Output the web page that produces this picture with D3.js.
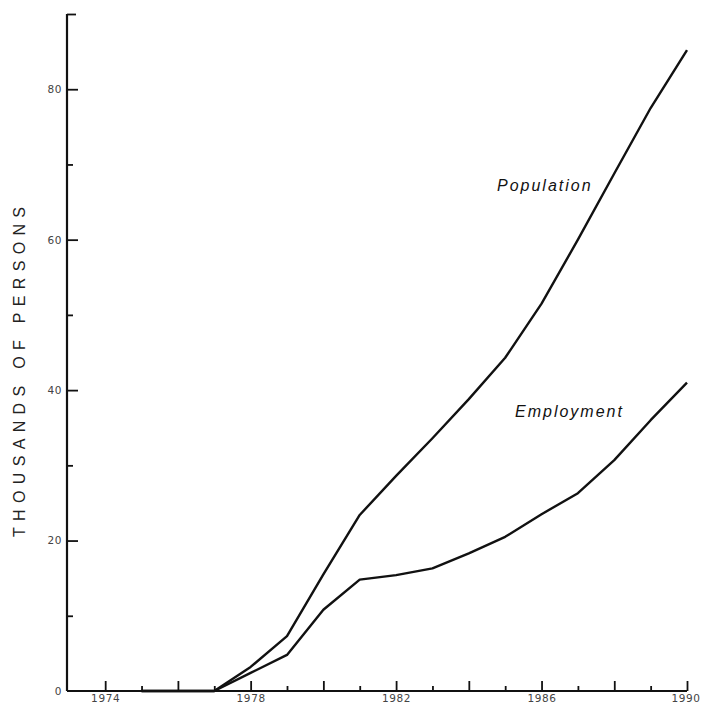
<!DOCTYPE html>
<html>
<head>
<meta charset="utf-8">
<script src="https://cdn.jsdelivr.net/npm/d3@7"></script>
<style>
  html, body { margin: 0; padding: 0; background: #ffffff; }
  svg { display: block; }
</style>
</head>
<body>
<script>
// ---- data ----
const years = [1975, 1976, 1977, 1978, 1979, 1980, 1981, 1982, 1983, 1984, 1985, 1986, 1987, 1988, 1989, 1990];
const population = [0, 0, 0, 3.2, 7.3, 15.5, 23.4, 28.6, 33.6, 38.8, 44.3, 51.5, 60.0, 68.8, 77.5, 85.2];
const employment = [0, 0, 0, 2.4, 4.8, 10.8, 14.8, 15.4, 16.3, 18.3, 20.5, 23.5, 26.3, 30.7, 36.0, 41.0];
const yMajorTicks = [20, 40, 60, 80];
const yMinorTicks = [10, 30, 50, 70];
const yLabelTicks = [0, 20, 40, 60, 80];
const xMajorYears = [1974, 1976, 1978, 1980, 1982, 1984, 1986, 1988, 1990];
const xMinorYears = [1975, 1977, 1979, 1981, 1983, 1985, 1987, 1989];
const xLabelYears = [1974, 1978, 1982, 1986, 1990];
const yTitle = "THOUSANDS OF PERSONS";

const W = 701, H = 709;
const svg = d3.select("body").append("svg").attr("width", W).attr("height", H);

const x = d3.scaleLinear().domain([1972.95, 1990]).range([67, 687]);
const y = d3.scaleLinear().domain([0, 90]).range([691, 14]);

const axisColor = "#111";
const x0 = x(1972.95);

// Y axis minor ticks
const gyMinor = svg.append("g").attr("transform", `translate(${x0},0)`)
  .call(d3.axisLeft(y).tickValues(yMinorTicks).tickSize(-6).tickFormat(""));
// Y axis major ticks
const gyMajor = svg.append("g").attr("transform", `translate(${x0},0)`)
  .call(d3.axisLeft(y).tickValues(yMajorTicks).tickSize(-11).tickFormat(""));
// Y labels
const gyLab = svg.append("g").attr("transform", `translate(${x0},0)`)
  .call(d3.axisLeft(y).tickValues(yLabelTicks).tickSize(0).tickPadding(5).tickFormat(d3.format("d")));
// top cap
const gyTop = svg.append("g").attr("transform", `translate(${x0},0)`)
  .call(d3.axisLeft(y).tickValues([90]).tickSize(-9).tickFormat(""));

// X axis ticks
const gxMinor = svg.append("g").attr("transform", `translate(0,${y(0)})`)
  .call(d3.axisBottom(x).tickValues(xMinorYears).tickSize(-5).tickFormat(""));
const gxMajor = svg.append("g").attr("transform", `translate(0,${y(0)})`)
  .call(d3.axisBottom(x).tickValues(xMajorYears).tickSize(-10).tickFormat(""));
const gxLab = svg.append("g").attr("transform", `translate(0,${y(0)})`)
  .call(d3.axisBottom(x).tickValues(xLabelYears).tickSize(0).tickPadding(4).tickFormat(d3.format("d")));

[gyMinor, gyMajor, gyLab, gyTop, gxMinor, gxMajor, gxLab].forEach(g => {
  g.select(".domain").remove();
  g.selectAll("line").attr("stroke", axisColor).attr("stroke-width", 1.8);
  g.selectAll("text").attr("fill", "#444")
    .style("font-family", "'DejaVu Sans', sans-serif")
    .style("font-size", "10.5px")
    .style("letter-spacing", "0.6px");
});
// keep the last year label inside the picture
gxLab.selectAll("text").filter(d => d === 1990).attr("text-anchor", "end").attr("dx", 13);

// axis lines
svg.append("line")
  .attr("x1", x0).attr("x2", x0)
  .attr("y1", y(90)).attr("y2", y(0))
  .attr("stroke", axisColor).attr("stroke-width", 2.2);
svg.append("line")
  .attr("x1", x0).attr("x2", x(1990))
  .attr("y1", y(0)).attr("y2", y(0))
  .attr("stroke", axisColor).attr("stroke-width", 1.8);

// series lines
const line = d3.line().x((d, i) => x(years[i])).y(d => y(d)).curve(d3.curveLinear);
svg.append("path").datum(population).attr("d", line)
  .attr("fill", "none").attr("stroke", "#111").attr("stroke-width", 2.4)
  .attr("stroke-linejoin", "round");
svg.append("path").datum(employment).attr("d", line)
  .attr("fill", "none").attr("stroke", "#111").attr("stroke-width", 2.4)
  .attr("stroke-linejoin", "round");

// series labels
svg.append("text").attr("x", 497).attr("y", 191)
  .text("Population")
  .style("font-family", "'Liberation Sans', Arial, sans-serif")
  .style("font-style", "italic").style("font-size", "16px")
  .style("letter-spacing", "2px").attr("fill", "#111");
svg.append("text").attr("x", 515).attr("y", 417)
  .text("Employment")
  .style("font-family", "'Liberation Sans', Arial, sans-serif")
  .style("font-style", "italic").style("font-size", "16px")
  .style("letter-spacing", "2px").attr("fill", "#111");

// y title
svg.append("text")
  .attr("transform", `translate(25,${372}) rotate(-90)`)
  .attr("text-anchor", "middle")
  .attr("textLength", 330).attr("lengthAdjust", "spacing")
  .text(yTitle)
  .style("font-family", "'Liberation Sans', Arial, sans-serif")
  .style("font-size", "16px").attr("fill", "#222");
</script>
</body>
</html>
